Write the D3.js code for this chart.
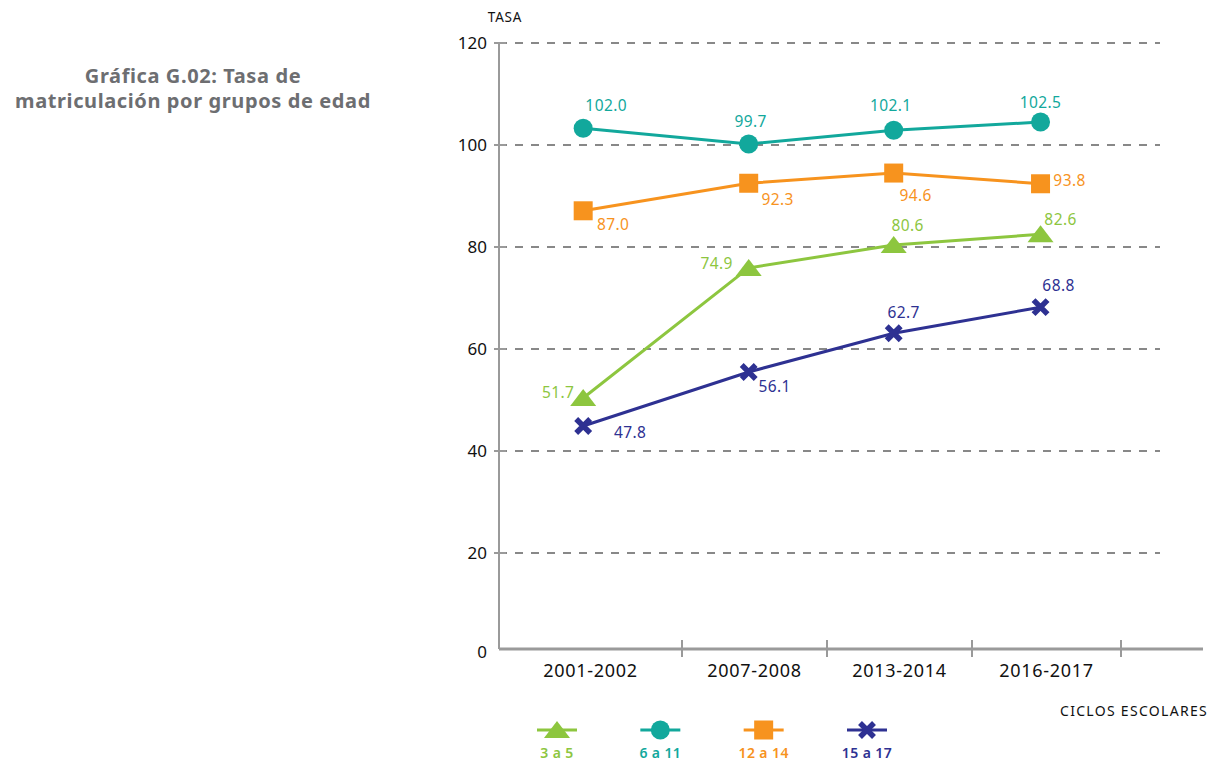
<!DOCTYPE html>
<html>
<head>
<meta charset="utf-8">
<script src="https://cdn.jsdelivr.net/npm/d3@7"></script>
<style>
  body { margin: 0; background: #fff; }
  svg { font-family: "Noto Sans", sans-serif; }
</style>
</head>
<body>
<svg width="1220" height="761"></svg>
<script>
// categories (school cycles)
var ciclos = ["2001-2002", "2007-2008", "2013-2014", "2016-2017"];
var yTicks = [0, 20, 40, 60, 80, 100, 120];

// series names, plotted values and printed labels
var grupos = ["3 a 5", "6 a 11", "12 a 14", "15 a 17"];
var valores3a5 = [50.4, 75.9, 80.4, 82.5];
var valores6a11 = [103.3, 100.2, 102.9, 104.5];
var valores12a14 = [87.1, 92.5, 94.5, 92.4];
var valores15a17 = [44.9, 55.5, 63.1, 68.2];
var etiquetas3a5 = ["51.7", "74.9", "80.6", "82.6"];
var etiquetas6a11 = ["102.0", "99.7", "102.1", "102.5"];
var etiquetas12a14 = ["87.0", "92.3", "94.6", "93.8"];
var etiquetas15a17 = ["47.8", "56.1", "62.7", "68.8"];

var colores = ["#8dc63f", "#12a89c", "#f7931e", "#2e3192"];
var simbolos = ["triangle", "circle", "square", "cross"];
// label offsets from the marker, per series
var offsets = [
  [[-25, -5], [-32, -4], [14, -19], [20, -15]],
  [[23, -23], [2, -22], [-3, -25], [0, -19]],
  [[30, 14], [29, 16], [22, 23], [29, -3]],
  [[47, 7], [26, 15], [10, -21], [18, -22]]
];

var series = [
  {name: grupos[0], values: valores3a5, labels: etiquetas3a5},
  {name: grupos[1], values: valores6a11, labels: etiquetas6a11},
  {name: grupos[2], values: valores12a14, labels: etiquetas12a14},
  {name: grupos[3], values: valores15a17, labels: etiquetas15a17}
];

var svg = d3.select("svg");

// x: piecewise scale over the category slots (slot edges are the axis ticks)
var x = d3.scaleLinear().domain([0, 1, 2, 3, 4]).range([499, 682, 827, 972, 1121]);
var y = d3.scaleLinear().domain([0, 120]).range([655, 43]);

// title
var title = svg.append("text")
    .attr("text-anchor", "middle")
    .attr("fill", "#6d6e71")
    .attr("font-weight", "bold")
    .attr("font-size", 20)
    .attr("letter-spacing", 0.6);
title.append("tspan").attr("x", 193).attr("y", 83).text("Gráfica G.02: Tasa de");
title.append("tspan").attr("x", 193).attr("y", 108).text("matriculación por grupos de edad");

// gridlines
svg.append("g").selectAll("line")
  .data(yTicks.filter(d => d > 0))
  .join("line")
    .attr("x1", 499).attr("x2", 1160)
    .attr("y1", d => y(d)).attr("y2", d => y(d))
    .attr("stroke", "#888")
    .attr("stroke-width", 2)
    .attr("stroke-dasharray", "8,8");

// y axis
svg.append("line")
    .attr("x1", 499).attr("x2", 499)
    .attr("y1", y(120)).attr("y2", y(0) - 6)
    .attr("stroke", "#9a9a9a").attr("stroke-width", 2);
svg.append("g").selectAll("line")
  .data(yTicks.filter(d => d > 0))
  .join("line")
    .attr("x1", 494).attr("x2", 506)
    .attr("y1", d => y(d)).attr("y2", d => y(d))
    .attr("stroke", "#9a9a9a").attr("stroke-width", 2);
svg.append("g").selectAll("text")
  .data(yTicks)
  .join("text")
    .attr("x", 487)
    .attr("y", d => d === 0 ? y(d) - 3 : y(d))
    .attr("dy", "0.35em")
    .attr("text-anchor", "end")
    .attr("font-size", 17)
    .attr("fill", "#111")
    .text(d => d);

svg.append("text")
    .attr("x", 505).attr("y", 22)
    .attr("text-anchor", "middle")
    .attr("font-size", 13.5)
    .attr("letter-spacing", 0.8)
    .attr("fill", "#111")
    .text("TASA");

// x axis
var x0 = y(0) - 6;
svg.append("line")
    .attr("x1", 499).attr("x2", 1203)
    .attr("y1", x0).attr("y2", x0)
    .attr("stroke", "#9a9a9a").attr("stroke-width", 3);
svg.append("g").selectAll("line")
  .data([1, 2, 3, 4])
  .join("line")
    .attr("x1", d => x(d)).attr("x2", d => x(d))
    .attr("y1", x0 - 9).attr("y2", x0 + 8)
    .attr("stroke", "#9a9a9a").attr("stroke-width", 2);
svg.append("g").selectAll("text")
  .data(ciclos)
  .join("text")
    .attr("x", (d, i) => x(i + 0.5))
    .attr("y", 677)
    .attr("text-anchor", "middle")
    .attr("font-size", 18)
    .attr("letter-spacing", 0.7)
    .attr("fill", "#111")
    .text(d => d);

svg.append("text")
    .attr("x", 1208).attr("y", 716)
    .attr("text-anchor", "end")
    .attr("font-size", 14)
    .attr("letter-spacing", 1.3)
    .attr("fill", "#111")
    .text("CICLOS ESCOLARES");

// marker drawing
function drawMarker(g, type, color) {
  if (type === "circle") {
    g.append("circle").attr("r", 9.5).attr("fill", color);
  } else if (type === "square") {
    g.append("rect").attr("x", -9.5).attr("y", -9.5).attr("width", 19).attr("height", 19).attr("fill", color);
  } else if (type === "triangle") {
    g.append("path").attr("d", "M0,-9L13,8L-13,8Z").attr("fill", color);
  } else {
    g.append("path").attr("d", "M-7,-7L7,7M7,-7L-7,7")
      .attr("stroke", color).attr("stroke-width", 5.5).attr("stroke-linecap", "butt");
  }
}

var px = i => x(i + 0.46);
var line = d3.line().x((d, i) => px(i)).y(d => y(d));

series.forEach(function(s, k) {
  var g = svg.append("g");
  g.append("path")
    .attr("d", line(s.values))
    .attr("fill", "none")
    .attr("stroke", colores[k])
    .attr("stroke-width", 3);

  s.values.forEach(function(v, i) {
    var m = g.append("g").attr("transform", `translate(${px(i)},${y(v)})`);
    drawMarker(m, simbolos[k], colores[k]);
  });

  g.selectAll("text.lbl")
    .data(s.values)
    .join("text")
      .attr("class", "lbl")
      .attr("x", (d, i) => px(i) + offsets[k][i][0])
      .attr("y", (d, i) => y(d) + offsets[k][i][1])
      .attr("dy", "0.35em")
      .attr("text-anchor", "middle")
      .attr("font-size", 15.5)
      .attr("letter-spacing", 0.4)
      .attr("fill", colores[k])
      .text((d, i) => s.labels[i]);
});

// legend
var lx = d3.scalePoint().domain(grupos).range([557, 867]);
grupos.forEach(function(name, k) {
  var g = svg.append("g").attr("transform", `translate(${lx(name)},730)`);
  g.append("line").attr("x1", -20).attr("x2", 20)
    .attr("stroke", colores[k]).attr("stroke-width", 3);
  drawMarker(g, simbolos[k], colores[k]);
  g.append("text")
    .attr("y", 28)
    .attr("text-anchor", "middle")
    .attr("font-size", 14)
    .attr("font-weight", 600)
    .attr("letter-spacing", 0.4)
    .attr("fill", colores[k])
    .text(name);
});
</script>
</body>
</html>
